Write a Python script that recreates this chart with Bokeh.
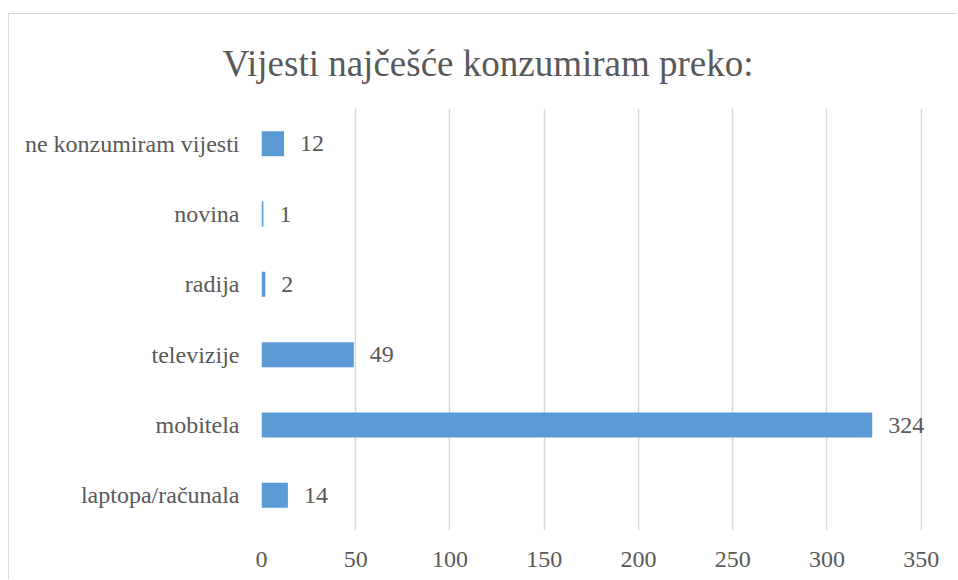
from bokeh.plotting import figure
from bokeh.models import Range1d, FactorRange, FixedTicker, ColumnDataSource
from bokeh.core.properties import value
from bokeh.embed import file_html
from bokeh.resources import INLINE

title_text = "Vijesti najčešće konzumiram preko:"
categories = ["laptopa/računala", "mobitela", "televizije", "radija", "novina", "ne konzumiram vijesti"]
counts = [14, 324, 49, 2, 1, 12]
x_ticks = [0, 50, 100, 150, 200, 250, 300, 350]

FONT = "'Liberation Serif', 'Times New Roman', serif"
TXT = "#595959"
BAR = "#5B9BD5"
GRID = "#D9D9D9"

source = ColumnDataSource(data=dict(cat=categories, val=counts, lbl=[str(v) for v in counts]))

p = figure(
    width=949, height=566,
    y_range=FactorRange(factors=categories),
    x_range=Range1d(0, 365),
    output_backend="svg", toolbar_location=None,
    min_border_left=252, min_border_right=9, min_border_top=94, min_border_bottom=50,
)
p.styles = {"margin-left": "8px", "margin-top": "13px",
            "border-left": "1px solid #D9D9D9", "border-top": "1px solid #D9D9D9"}

p.title.text = title_text
p.title.text_font = FONT
p.title.text_font_size = "37px"
p.title.text_font_style = "normal"
p.title.text_color = TXT
p.title.align = "left"
p.title.offset = -39
p.title.standoff = 49

p.hbar(y="cat", right="val", left=0, height=0.355, source=source, fill_color=BAR, line_color=None)
p.text(x="val", y="cat", text="lbl", source=source, x_offset=16,
       text_font=value(FONT), text_font_size="24px", text_color=TXT,
       text_align="left", text_baseline="middle")

p.outline_line_color = None
p.background_fill_color = "white"
p.border_fill_color = "white"

p.xgrid.ticker = FixedTicker(ticks=x_ticks)
p.xgrid.grid_line_color = GRID
p.xgrid.grid_line_width = 1.5
p.ygrid.grid_line_color = None

p.xaxis.ticker = FixedTicker(ticks=x_ticks)
p.xaxis.axis_line_color = None
p.xaxis.major_tick_line_color = None
p.xaxis.minor_tick_line_color = None
p.xaxis.major_label_text_font = FONT
p.xaxis.major_label_text_font_size = "24px"
p.xaxis.major_label_text_color = TXT
p.xaxis.major_label_standoff = 15

p.yaxis.axis_line_color = None
p.yaxis.major_tick_line_color = None
p.yaxis.minor_tick_line_color = None
p.yaxis.major_label_text_font = FONT
p.yaxis.major_label_text_font_size = "24px"
p.yaxis.major_label_text_color = TXT
p.yaxis.major_label_standoff = 16

open("out.html", "w").write(file_html(p, INLINE))
